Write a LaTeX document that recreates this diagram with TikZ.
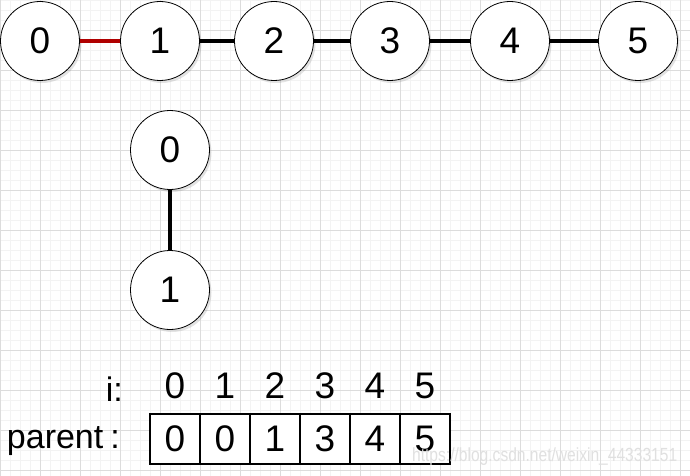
\documentclass[tikz,border=0pt]{standalone}
\usepackage{fontspec}
\setmainfont{Liberation Sans}
\usetikzlibrary{shadows}
\definecolor{edgered}{HTML}{B00000}
\definecolor{minorgrid}{HTML}{F3F3F3}
\definecolor{majorgrid}{HTML}{DCDCDC}
\tikzset{
  circ/.style={circle, draw=black, line width=0.8pt, fill=white, minimum size=79pt, inner sep=0pt,
    font=\fontsize{37}{40}\selectfont,
    drop shadow={opacity=0.22, shadow xshift=2pt, shadow yshift=-2.5pt}},
  cell/.style={rectangle, draw=black, line width=1.1pt, fill=white, minimum width=50pt, minimum height=50pt,
    inner sep=0pt, font=\fontsize{37}{40}\selectfont},
  idx/.style={font=\fontsize{37}{40}\selectfont, inner sep=0pt},
  lbl/.style={font=\fontsize{34}{36}\selectfont, inner sep=0pt},
  edge/.style={line width=4.5pt, black},
  redge/.style={line width=4.5pt, edgered},
}
\begin{document}
\begin{tikzpicture}[x=1pt, y=-1pt]
\useasboundingbox (0,0) rectangle (690,476);
\fill[white] (0,0) rectangle (690,476);
% grid
\foreach \x in {0,10,...,690} \draw[minorgrid, line width=0.6pt] (\x,0) -- (\x,476);
\foreach \y in {0,10,...,470} \draw[minorgrid, line width=0.6pt] (0,\y) -- (690,\y);
\foreach \x in {0,40,...,680} \draw[majorgrid, line width=0.8pt] (\x,0) -- (\x,476);
\foreach \y in {30,70,...,470} \draw[majorgrid, line width=0.8pt] (0,\y) -- (690,\y);

% top chain
\node[circ] (t0) at (40,41) {0};
\node[circ] (t1) at (160,41) {1};
\node[circ] (t2) at (274,41) {2};
\node[circ] (t3) at (390,41) {3};
\node[circ] (t4) at (510,41) {4};
\node[circ] (t5) at (638,41) {5};
\draw[redge] (t0) -- (t1);
\draw[edge] (t1) -- (t2);
\draw[edge] (t2) -- (t3);
\draw[edge] (t3) -- (t4);
\draw[edge] (t4) -- (t5);

% small tree
\node[circ] (m0) at (170,150) {0};
\node[circ] (m1) at (170,290) {1};
\draw[edge] (m0) -- (m1);

% index row
\node[lbl, anchor=east] (ilbl) at (123,389) {i:};
\foreach \i in {0,...,5} \node[idx] (i\i) at (175+50*\i,386) {\i};

% parent array
\node[lbl, anchor=east] (plbl) at (120,441) {parent\hspace{7pt}:};
\node[cell] (p0) at (175,439) {0};
\node[cell] (p1) at (225,439) {0};
\node[cell] (p2) at (275,439) {1};
\node[cell] (p3) at (325,439) {3};
\node[cell] (p4) at (375,439) {4};
\node[cell] (p5) at (425,439) {5};

% watermark
\node[anchor=west, inner sep=0pt, text=black!12, xscale=0.82, font=\fontsize{19}{20}\selectfont] (wm) at (412,457) {https://blog.csdn.net/weixin\_44333151};
\end{tikzpicture}
\end{document}
